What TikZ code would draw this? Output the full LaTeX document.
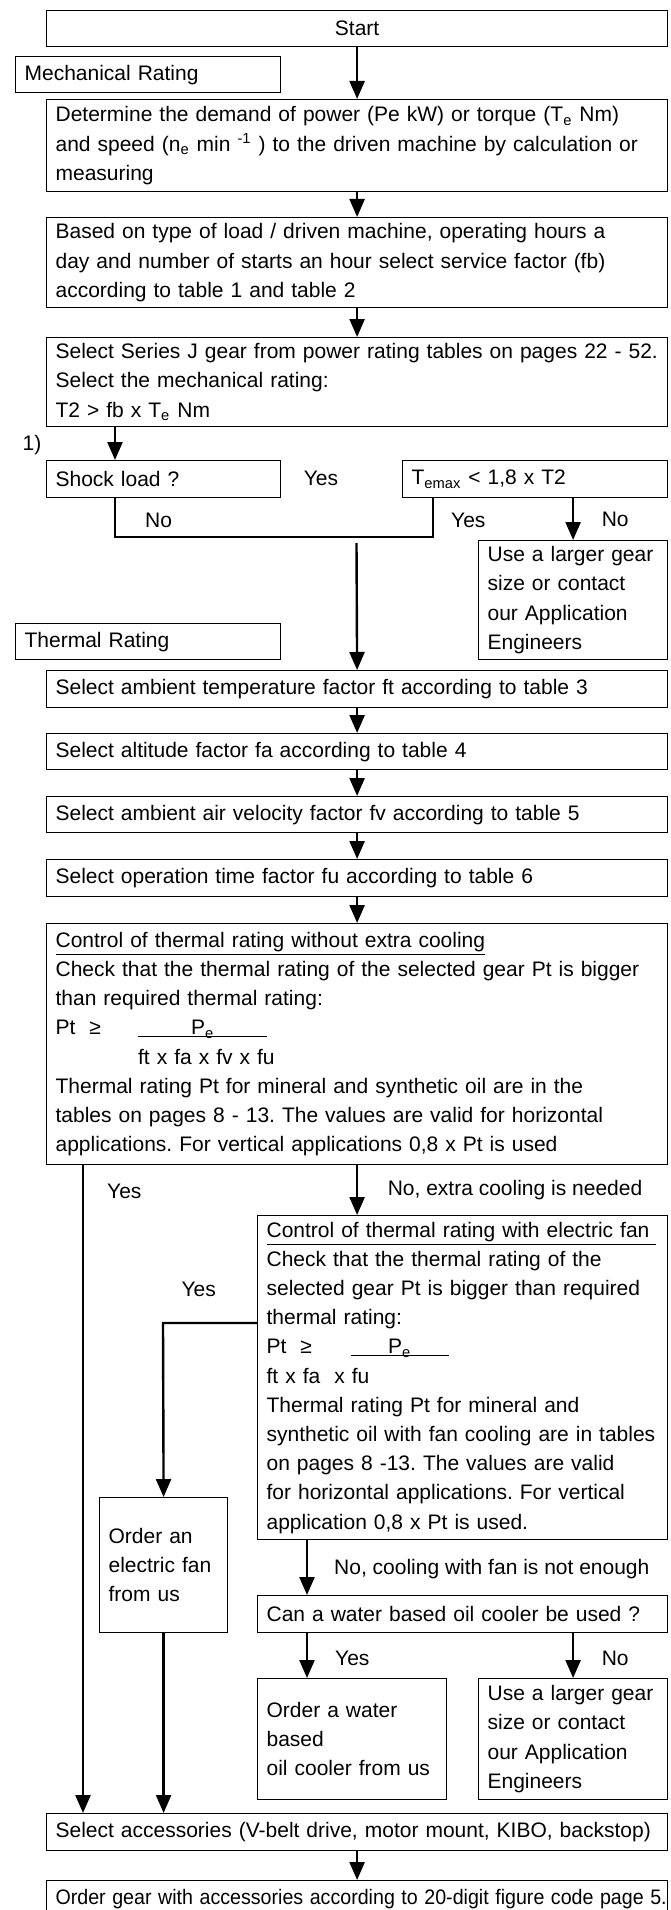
\documentclass[tikz,border=0pt]{standalone}
\usepackage{fontspec}
\usepackage{graphicx}
\setmainfont{Liberation Sans}
\usetikzlibrary{arrows.meta}
\frenchspacing

\newcommand{\flowfont}{\fontsize{10.5}{14.6}\selectfont}
\tikzset{
  box/.style={draw, line width=0.6pt, anchor=north west, align=left, inner xsep=4.5pt, inner ysep=1pt, font=\flowfont},
  headbox/.style={box, align=center},
  flow/.style={line width=1.2pt, -{Triangle[length=9pt,width=7.5pt]}},
  branch/.style={line width=1.2pt},
  lbl/.style={inner sep=0pt, font=\flowfont}
}

\begin{document}
\begin{tikzpicture}[x=0.5pt,y=-0.5pt]
\useasboundingbox (0,0) rectangle (670,1910);
% mechanical rating
\draw node(start)[headbox, text width=301.5pt, minimum height=18pt] at (46,10) {Start};
\draw node(mech)[box, text width=123.5pt, minimum height=18pt] at (15,56) {Mechanical Rating};
\draw node(det)[box, text width=301.5pt, minimum height=46pt] at (46,99) {Determine the demand of power (Pe kW) or torque (T\textsubscript{e} Nm)\\and speed (n\textsubscript{e} min \textsuperscript{-1} ) to the driven machine by calculation or\\measuring};
\draw node(based)[box, text width=301.5pt, minimum height=45pt] at (46,217) {Based on type of load / driven machine, operating hours a\\day and number of starts an hour select service factor (fb)\\according to table 1 and table 2};
\draw node(serj)[box, text width=301.5pt, minimum height=44.5pt] at (46,337) {Select Series J gear from power rating tables on pages 22 - 52.\\Select the mechanical rating:\\T2 > fb x T\textsubscript{e} Nm};
\draw node(note)[lbl] at (32,445) {1)};
\draw node(shock)[box, text width=108pt, minimum height=18.5pt] at (46,460) {Shock load ?};
\draw node(yesmid)[lbl] at (321,478) {Yes};
\draw node(temax)[box, text width=123.5pt, minimum height=18.5pt] at (402,460) {T\textsubscript{emax} < 1,8 x T2};
\draw node(big1)[box, text width=85.5pt, minimum height=59.5pt] at (478,540) {Use a larger gear\\size or contact\\our Application\\Engineers};
% thermal rating
\draw node(therm)[box, text width=123.5pt, minimum height=18pt] at (15,623) {Thermal Rating};
\draw node(amb)[box, text width=301.5pt, minimum height=18.5pt] at (46,670) {Select ambient temperature factor ft according to table 3};
\draw node(alt)[box, text width=301.5pt, minimum height=18pt] at (46,733) {Select altitude factor fa according to table 4};
\draw node(air)[box, text width=301.5pt, minimum height=18pt] at (46,796) {Select ambient air velocity factor fv according to table 5};
\draw node(op)[box, text width=301.5pt, minimum height=18.5pt] at (46,859) {Select operation time factor fu according to table 6};
\draw node(ctrl)[box, text width=301.5pt, minimum height=120.5pt] at (46,923) {\underline{Control of thermal rating without extra cooling}\\Check that the thermal rating of the selected gear Pt is bigger\\than required thermal rating:\\\makebox[41.25pt][l]{Pt\ \ ≥}\rlap{\rule[-1.2pt]{64.5pt}{0.5pt}}\makebox[64.5pt]{P\textsubscript{e}}\\\hspace*{41.25pt}ft x fa x fv x fu\\Thermal rating Pt for mineral and synthetic oil are in the\\tables on pages 8 - 13. The values are valid for horizontal\\applications. For vertical applications 0,8 x Pt is used};
\draw node(fan)[box, text width=196pt, minimum height=162pt] at (257,1215) {\underline{Control of thermal rating with electric fan\ }\\Check that the thermal rating of the\\selected gear Pt is bigger than required\\thermal rating:\\\makebox[42pt][l]{Pt\ \ ≥}\rlap{\rule[-1.2pt]{49pt}{0.5pt}}\makebox[49pt]{P\textsubscript{e}}\\ft x fa\ \ x fu\\Thermal rating Pt for mineral and\\synthetic oil with fan cooling are in tables\\on pages 8 -13. The values are valid\\for horizontal applications. For vertical\\application 0,8 x Pt is used.};
\draw node(ofan)[box, text width=55pt, minimum height=67.5pt] at (99,1497) {Order an\\electric fan\\from us};
\draw node(water)[box, text width=196pt, minimum height=18.5pt] at (257,1595) {Can a water based oil cooler be used ?};
\draw node(owater)[box, text width=85.5pt, minimum height=60.5pt] at (257,1678) {Order a water\\based\\oil cooler from us};
\draw node(big2)[box, text width=85.5pt, minimum height=60.5pt] at (478,1678) {Use a larger gear\\size or contact\\our Application\\Engineers};
\draw node(acc)[box, text width=301.5pt, minimum height=18.5pt] at (46,1813) {Select accessories (V-belt drive, motor mount, KIBO, backstop)};
\draw node(gear)[box, text width=301.5pt, minimum height=18.5pt] at (46,1880) {\scalebox{0.935}[1]{Order gear with accessories according to 20-digit figure code page 5.}};

\coordinate (sj) at (115,460);
\coordinate (nojoin) at (115,537);
\coordinate (yesjoin) at (433,537);
\coordinate (mergeout) at (356.5,543);
\coordinate (yesleft) at ([xshift=18.5pt]ctrl.south west);
\coordinate (fanturn) at (163,1323);
\coordinate (fanno) at ([xshift=25pt]fan.south west);
\coordinate (wateryes) at ([xshift=25pt]water.south west);

\draw[flow] (start) -- (det);
\draw[flow] (det) -- (based);
\draw[flow] (based) -- (serj);
\draw[flow] (serj.south -| sj) -- (sj);
\draw[branch] (shock.south -| nojoin) -- node[lbl, right=14.5pt, pos=0.58]{No} (nojoin) -- (yesjoin) -- node[lbl, right=8.5pt, pos=0.43]{Yes} (temax.south -| yesjoin);
\draw[flow] (temax.south -| big1.north) -- node[lbl, right=13.75pt, pos=0.5]{No} (big1.north);
\draw[flow] (mergeout) -- (amb.north);
\draw[flow] (amb) -- (alt);
\draw[flow] (alt) -- (air);
\draw[flow] (air) -- (op);
\draw[flow] (op) -- (ctrl);
\draw[flow] (yesleft) -- node[lbl, right=11.5pt, pos=0.04]{Yes} (yesleft |- acc.north);
\draw[flow] (ctrl.south) -- node[lbl, right=14.75pt, pos=0.49]{No, extra cooling is needed} (ctrl.south |- fan.north);
\draw[flow] (fan.west |- fanturn) -- node[lbl, above=12.75pt, pos=0.62]{Yes} (fanturn) -- (ofan.north);
\draw[flow] (fanno) -- node[lbl, right=13pt, pos=0.52]{No, cooling with fan is not enough} (fanno |- water.north);
\draw[flow] (wateryes) -- node[lbl, right=13.5pt, pos=0.56]{Yes} (wateryes |- owater.north);
\draw[flow] (water.south -| big2.north) -- node[lbl, right=13.75pt, pos=0.56]{No} (big2.north);
\draw[flow] (ofan.south) -- (ofan.south |- acc.north);
\draw[flow] (acc) -- (gear);
\end{tikzpicture}
\end{document}
